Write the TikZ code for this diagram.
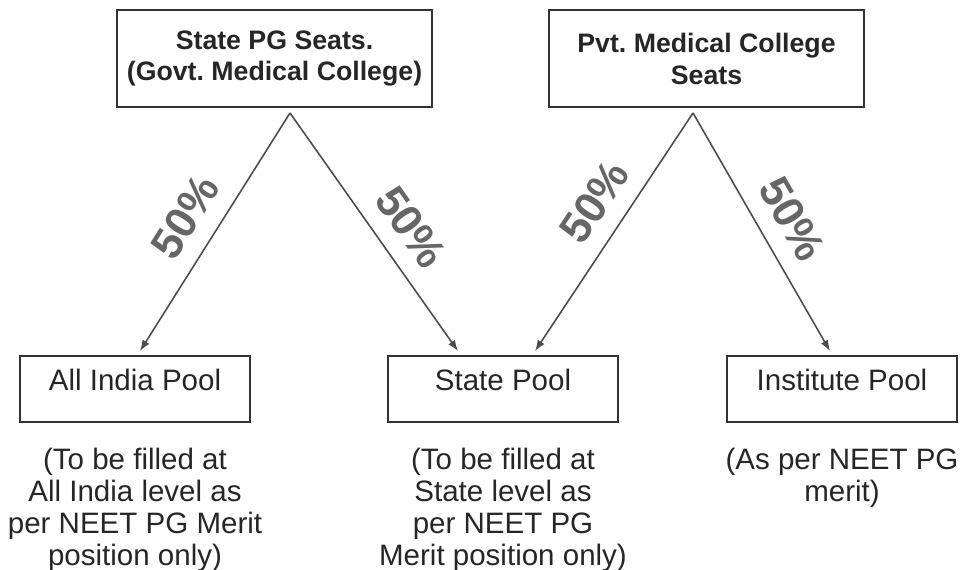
\documentclass[tikz,border=0pt]{standalone}
\usepackage{fontspec}
\setmainfont{Liberation Sans}
\usetikzlibrary{positioning, arrows.meta}
\frenchspacing

\begin{document}
\begin{tikzpicture}[x=0.02cm, y=-0.02cm, node distance=0.5cm and 1cm]
            \tikzstyle{seats} = [rectangle, draw=black!80, line width=1.2pt, text=black!85,
                font=\bfseries\fontsize{15.2}{18.2}\selectfont, align=center,
                minimum width=6.3cm, minimum height=1.94cm]
            \tikzstyle{pool} = [rectangle, draw=black!80, line width=1pt, text=black!85,
                font=\fontsize{16.8}{18.2}\selectfont, minimum width=4.6cm,
                minimum height=1.32cm, text height=0.45cm, text depth=0.4cm]
            \tikzstyle{note} = [text=black!85, font=\fontsize{16.8}{18.2}\selectfont,
                align=center, inner sep=0pt]
            \tikzstyle{pct} = [text=black!60, font=\bfseries\fontsize{25}{28}\selectfont,
                sloped, above=0.22cm]
            \tikzstyle{line} = [draw=black!70, line width=0.9pt, -{Latex[length=0.22cm, width=0.16cm]}]

            \useasboundingbox (0,0) rectangle (962,570);

            \node [seats] (govt) at (274.5,58.5) {State PG Seats.\\(Govt. Medical College)};
            \node [seats] (pvt) at (706.5,58.5) {Pvt. Medical College\\Seats};

            \node [pool] (allindia) at (135,389) {All India Pool};
            \node [pool] (state) at (503,389) {State Pool};
            \node [pool] (institute) at (842,389) {Institute Pool};

            \node [note, below=0.5cm of allindia] (allindianote) {(To be filled at\\All India level as\\per NEET PG Merit\\position only)};
            \node [note, below=0.5cm of state] (statenote) {(To be filled at\\State level as\\per NEET PG\\Merit position only)};
            \node [note, below=0.5cm of institute] (institutenote) {(As per NEET PG\\merit)};

            \coordinate (govtsplit) at (290,113);
            \coordinate (pvtsplit) at (693,113);

            \path [line] (govtsplit) -- node [pct, pos=0.51] (govtaip) {50\%} ([xshift=0.1cm, yshift=0.08cm]allindia.north);
            \path [line] (govtsplit) -- node [pct, pos=0.56] (govtsp) {50\%} ([xshift=-0.9cm, yshift=0.08cm]state.north);
            \path [line] (pvtsplit) -- node [pct, pos=0.45] (pvtsp) {50\%} ([xshift=0.64cm, yshift=0.08cm]state.north);
            \path [line] (pvtsplit) -- node [pct, pos=0.515] (pvtip) {50\%} ([xshift=-0.24cm, yshift=0.08cm]institute.north);
        \end{tikzpicture}
\end{document}
